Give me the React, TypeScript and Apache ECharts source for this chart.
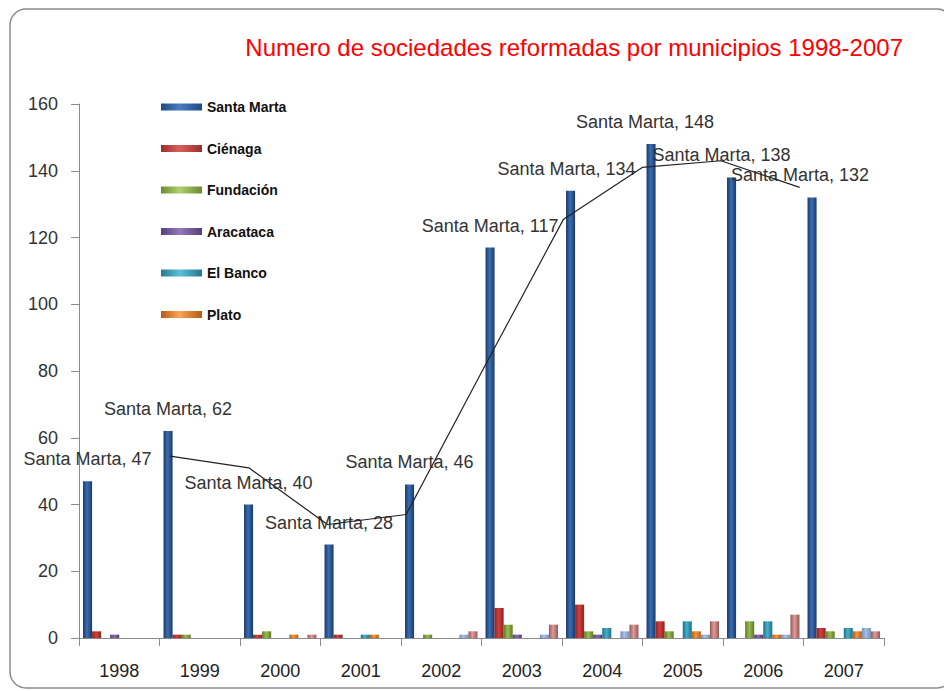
import React, { useEffect, useRef } from "react";
import * as echarts from "echarts";

const years = ["1998", "1999", "2000", "2001", "2002", "2003", "2004", "2005", "2006", "2007"];
const santaMarta = [47, 62, 40, 28, 46, 117, 134, 148, 138, 132];
const cienaga = [2, 1, 1, 1, 0, 9, 10, 5, 0, 3];
const fundacion = [0, 1, 2, 0, 1, 4, 2, 2, 5, 2];
const aracataca = [1, 0, 0, 0, 0, 1, 1, 0, 1, 0];
const elBanco = [0, 0, 0, 1, 0, 0, 3, 5, 5, 3];
const plato = [0, 0, 1, 1, 0, 0, 0, 2, 1, 2];
const serie7 = [0, 0, 0, 0, 1, 1, 2, 1, 1, 3];
const serie8 = [0, 0, 1, 0, 2, 4, 4, 5, 7, 2];
// two-period moving average trendline of Santa Marta
const trend = [null, 54.5, 51, 34, 37, 81.5, 125.5, 141, 143, 135];
const yTicks = { min: 0, max: 160, interval: 20 };

const labelShift = [0, 0, 0, 0, 0, 0, -4, -6, -10, -12];

function grad(edge: string, mid: string) {
  return new echarts.graphic.LinearGradient(0, 0, 1, 0, [
    { offset: 0, color: edge },
    { offset: 0.45, color: mid },
    { offset: 1, color: edge },
  ]);
}

export default function App() {
  const ref = useRef<HTMLDivElement>(null);
  useEffect(() => {
    if (!ref.current) return;
    const chart = echarts.init(ref.current, null, { renderer: "svg" });
    const font = "'Liberation Sans', Arial, sans-serif";
    const barSeries = [
      { name: "Santa Marta", data: santaMarta, c: grad("#193b6b", "#3b6db0"), legend: grad("#1f4a85", "#4a7cc0") },
      { name: "Ciénaga", data: cienaga, c: grad("#8e2422", "#d0403c"), legend: grad("#9a2e2b", "#d9605c") },
      { name: "Fundación", data: fundacion, c: grad("#5b7a26", "#9bbd4f"), legend: grad("#6b8a30", "#b0d070") },
      { name: "Aracataca", data: aracataca, c: grad("#4e3a6e", "#8a6bb0"), legend: grad("#54407a", "#9578bb") },
      { name: "El Banco", data: elBanco, c: grad("#1f6f85", "#45b0cc"), legend: grad("#25788f", "#5cc0da") },
      { name: "Plato", data: plato, c: grad("#b85a10", "#f7963f"), legend: grad("#b85a10", "#f9a55a") },
      { name: "Serie 7", data: serie7, c: grad("#6f8fbf", "#a9c2e4"), legend: "#95b3d7" },
      { name: "Serie 8", data: serie8, c: grad("#9c5654", "#dc9c9a"), legend: "#d99694" },
    ];
    const series: any[] = barSeries.map((s, idx) => ({
      type: "bar",
      name: s.name,
      xAxisIndex: 0,
      yAxisIndex: 0,
      barGap: "0%",
      barCategoryGap: "10%",
      itemStyle: { color: s.c },
      data:
        idx === 0
          ? s.data.map((v, i) => ({
              value: v,
              label: { offset: [labelShift[i], 0] },
            }))
          : s.data,
      label:
        idx === 0
          ? {
              show: true,
              position: "top",
              distance: 13,
              formatter: "{a}, {c}",
              color: "#333333",
              fontFamily: font,
              fontSize: 18,
            }
          : { show: false },
    }));
    series.push({
      type: "line",
      name: "Tendencia",
      xAxisIndex: 1,
      yAxisIndex: 1,
      data: trend,
      showSymbol: false,
      symbol: "none",
      connectNulls: false,
      lineStyle: { color: "#222222", width: 1.2 },
      z: 5,
    });

    chart.setOption({
      animation: false,
      backgroundColor: "#ffffff",
      title: {
        text: "Numero de sociedades reformadas por municipios 1998-2007",
        right: 36,
        top: 30,
        textStyle: { color: "#ff0000", fontFamily: font, fontSize: 24, fontWeight: "normal" },
      },
      legend: {
        orient: "vertical",
        left: 156,
        top: 95,
        itemWidth: 41,
        itemHeight: 7,
        itemGap: 27.5,
        icon: "rect",
        data: barSeries.slice(0, 6).map((s) => ({ name: s.name, itemStyle: { color: s.legend } })),
        textStyle: { fontFamily: font, fontSize: 14, fontWeight: "bold", color: "#111", lineHeight: 14 },
      },
      grid: [
        { left: 79, right: 60, top: 104, bottom: 53 },
        { left: 52, width: 787, top: 104, bottom: 53 },
      ],
      xAxis: [
        {
          type: "category",
          gridIndex: 0,
          data: years,
          axisLine: { lineStyle: { color: "#8a8a8a", width: 1 } },
          axisTick: { show: true, length: 8, lineStyle: { color: "#8a8a8a" } },
          axisLabel: { margin: 24, fontFamily: font, fontSize: 18, color: "#222" },
        },
        {
          type: "category",
          gridIndex: 1,
          data: years,
          show: false,
        },
      ],
      yAxis: [
        {
          type: "value",
          gridIndex: 0,
          ...yTicks,
          axisLine: { show: true, lineStyle: { color: "#8a8a8a", width: 1 } },
          axisTick: { show: true, length: 8, lineStyle: { color: "#8a8a8a" } },
          splitLine: { show: false },
          axisLabel: { margin: 21, fontFamily: font, fontSize: 18, color: "#333" },
        },
        {
          type: "value",
          gridIndex: 1,
          ...yTicks,
          show: false,
          splitLine: { show: false },
        },
      ],
      graphic: [
        {
          type: "rect",
          shape: { x: 10, y: 9, width: 943, height: 679, r: 16 },
          style: { fill: "none", stroke: "#8c8c8c", lineWidth: 1.5 },
          silent: true,
          z: -1,
        },
      ],
      series,
    });
    return () => chart.dispose();
  }, []);
  return <div ref={ref} style={{ position: "fixed", left: 0, top: 0, width: 944, height: 691 }} />;
}
